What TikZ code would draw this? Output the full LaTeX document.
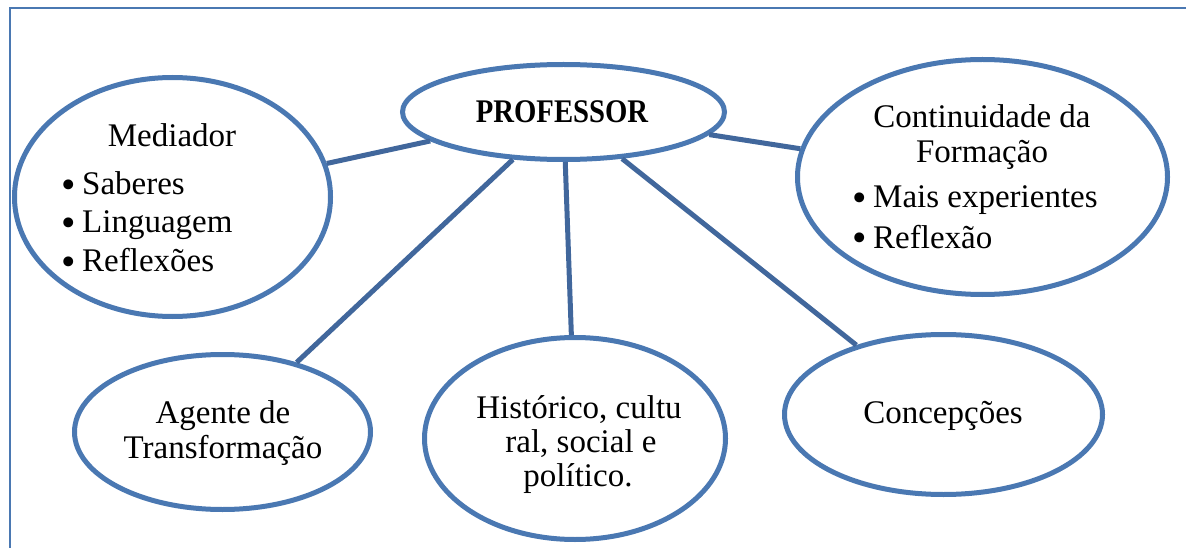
\documentclass[tikz,border=0pt]{standalone}
\usepackage{fontspec}
\setmainfont{Liberation Serif}
\usepackage{graphicx}
\usetikzlibrary{shapes.geometric}
\definecolor{ellblue}{HTML}{4A78B2}
\definecolor{lineblue}{HTML}{41679C}
\tikzset{
  bubble/.style={ellipse, draw=ellblue, line width=5pt, fill=white, inner sep=0pt},
  link/.style={draw=lineblue, line width=5pt},
  txt/.style={inner sep=0pt, anchor=base, font=\fontsize{33}{36}\selectfont},
  bul/.style={inner sep=0pt, anchor=base west, font=\fontsize{33}{36}\selectfont},
}
\newcommand{\bitem}[1]{\makebox[21pt][l]{\raisebox{-3.5pt}{\scalebox{1.25}{\textbullet}}}#1}
\begin{document}
\begin{tikzpicture}[x=1pt,y=-1pt]
\useasboundingbox (0,0) rectangle (1186,548);
% frame
\draw[ellblue, line width=2pt] (10,548) -- (10,8) -- (1186,8);
% ellipses
\node[bubble, minimum width=316pt, minimum height=239pt] (med) at (172.5,197) {};
\node[bubble, minimum width=322pt, minimum height=95pt] (prof) at (563.5,112) {};
\node[bubble, minimum width=370pt, minimum height=235pt] (cont) at (982.5,177) {};
\node[bubble, minimum width=296pt, minimum height=155pt] (agent) at (222.5,432) {};
\node[bubble, minimum width=301pt, minimum height=202pt] (hist) at (575,438.5) {};
\node[bubble, minimum width=318pt, minimum height=160pt] (conc) at (943.5,414.5) {};
% connectors
\draw[link] (prof) -- (med);
\draw[link] (prof) -- (cont);
\draw[link] (prof) -- (agent);
\draw[link] (prof) -- (hist);
\draw[link] (prof) -- (conc);
% texts
\node[txt] (tprof) at (562,123) {\scalebox{0.87}[1]{\bfseries PROFESSOR}};
\node[txt] (tmed) at (172,147) {Mediador};
\node[bul] (tm1) at (61,195) {\bitem{Saberes}};
\node[bul] (tm2) at (61,233) {\bitem{Linguagem}};
\node[bul] (tm3) at (61,272) {\bitem{Reflexões}};
\node[txt] (tc1) at (982,128) {Continuidade da};
\node[txt] (tc2) at (982,163) {Formação};
\node[bul] (tc3) at (852,208) {\bitem{Mais experientes}};
\node[bul] (tc4) at (852,248) {\bitem{Reflexão}};
\node[txt] (ta1) at (223,423) {Agente de};
\node[txt] (ta2) at (223,458) {Transformação};
\node[txt] (th1) at (579,418) {Histórico, cultu};
\node[txt] (th2) at (581,452) {ral, social e};
\node[txt] (th3) at (578,486) {político.};
\node[txt] (tcon) at (943,423) {Concepções};
\end{tikzpicture}
\end{document}
